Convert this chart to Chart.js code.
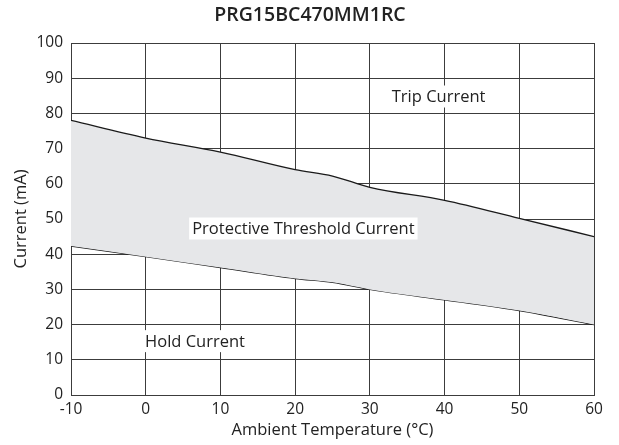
<!DOCTYPE html>
<html>
<head>
<meta charset="utf-8">
<script src="https://cdn.jsdelivr.net/npm/chart.js@4.4.0/dist/chart.umd.min.js"></script>
<style>
  html, body { margin: 0; padding: 0; background: #fff; }
  #wrap { width: 619px; height: 445px; }
</style>
</head>
<body>
<div id="wrap"><canvas id="myChart"></canvas></div>
<script>
// temperatures (°C) and the two boundary curves (mA)
const temps = [-10, 0, 10, 20, 25, 30, 40, 50, 60];
const tripCurrent = [78, 73, 69, 64, 62.2, 59, 55.3, 50.2, 45];
const holdCurrent = [42.3, 39.3, 36.2, 33.1, 32, 30, 27, 24, 20];

// region labels: [text, x, y] in data units
const regionLabels = [
    ['Trip Current', 39.2, 84.8],
    ['Protective Threshold Current', 21.1, 47.3],
    ['Hold Current', 6.6, 15.3]
];

const FONT = "'Open Sans', 'Noto Sans', sans-serif";
const gridColor = '#3c3c3c';

const labelPlugin = {
    id: 'regionLabels',
    afterDraw(chart) {
        const ctx = chart.ctx;
        const xs = chart.scales.x, ys = chart.scales.y;
        ctx.save();
        ctx.font = '16.5px ' + FONT;
        ctx.textAlign = 'center';
        ctx.textBaseline = 'middle';
        regionLabels.forEach(l => {
            const px = xs.getPixelForValue(l[1]);
            const py = ys.getPixelForValue(l[2]);
            const w = ctx.measureText(l[0]).width;
            ctx.fillStyle = '#fff';
            ctx.fillRect(px - w / 2 - 3, py - 11, w + 6, 22);
            ctx.fillStyle = '#222';
            ctx.fillText(l[0], px, py + 1);
        });
        ctx.restore();
    }
};

const ctx = document.getElementById('myChart').getContext('2d');

const myChart = new Chart(ctx, {
    type: 'line',
    data: {
        labels: temps,
        datasets: [{
            label: 'Trip',
            data: temps.map((t, i) => ({ x: t, y: tripCurrent[i] })),
            borderColor: '#1a1a1a',
            borderWidth: 1.3,
            backgroundColor: '#e6e7e9',
            fill: '+1',
            pointRadius: 0,
            cubicInterpolationMode: 'monotone'
        }, {
            label: 'Hold',
            data: temps.map((t, i) => ({ x: t, y: holdCurrent[i] })),
            borderColor: '#1a1a1a',
            borderWidth: 1.3,
            fill: false,
            pointRadius: 0,
            cubicInterpolationMode: 'monotone'
        }]
    },
    options: {
        responsive: true,
        maintainAspectRatio: false,
        animation: false,
        layout: { padding: { top: 0, right: 25, bottom: 0, left: 26 } },
        plugins: {
            legend: { display: false },
            tooltip: { enabled: false },
            title: {
                display: true,
                text: 'PRG15BC470MM1RC',
                color: '#222',
                font: { family: FONT, size: 19.5, weight: 600, lineHeight: 1.2 },
                padding: { top: 4, bottom: 15.6 }
            }
        },
        scales: {
            x: {
                type: 'linear',
                min: -10,
                max: 60,
                z: 1,
                afterFit(s) { s.height = 50; },
                ticks: { stepSize: 10, color: '#222', padding: 5, font: { family: FONT, size: 15.5 } },
                grid: { color: gridColor, lineWidth: 1, drawTicks: false },
                border: { color: gridColor, width: 1 },
                title: {
                    display: true,
                    text: 'Ambient Temperature (°C)',
                    color: '#222',
                    font: { family: FONT, size: 16.5 },
                    padding: { top: 0, bottom: 5 }
                }
            },
            y: {
                min: 0,
                max: 100,
                z: 1,
                afterFit(s) { s.width = 45; },
                ticks: { stepSize: 10, color: '#222', padding: 8, font: { family: FONT, size: 15.5 } },
                grid: { color: gridColor, lineWidth: 1, drawTicks: false },
                border: { color: gridColor, width: 1 },
                title: {
                    display: true,
                    text: 'Current (mA)',
                    color: '#222',
                    font: { family: FONT, size: 16.5 },
                    padding: { top: -15, bottom: 0 }
                }
            }
        }
    },
    plugins: [labelPlugin]
});
</script>
</body>
</html>
